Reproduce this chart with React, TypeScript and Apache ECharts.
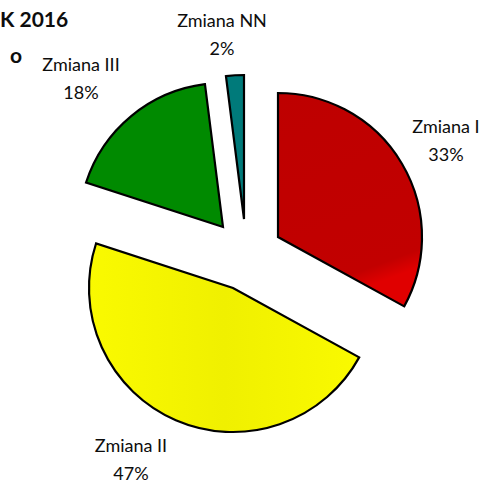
import React, { useEffect, useRef } from "react";
import * as echarts from "echarts";

const categories = ["Zmiana I", "Zmiana II", "Zmiana III", "Zmiana NN"];
const values = [33, 47, 18, 2];
const titleLines = ["K 2016", "o"];

const colors: any[] = [
  { type: "linear", x: 0, y: 0, x2: 0.25, y2: 1, colorStops: [{ offset: 0, color: "#BE0000" }, { offset: 0.92, color: "#C20000" }, { offset: 1, color: "#E00000" }] },
  { type: "linear", x: 0, y: 0, x2: 1, y2: 0, colorStops: [{ offset: 0, color: "#FAFA00" }, { offset: 0.5, color: "#F0F000" }, { offset: 1, color: "#FAFA00" }] },
  "#008A00",
  "#007A7A",
];
// apex (center) of each exploded slice
const centers = [[278, 237], [233, 288], [223, 227], [244, 219]];
const labelPos = [[446, 140], [131, 459], [81, 78], [222, 34]];

export default function App() {
  const ref = useRef<HTMLDivElement>(null);
  useEffect(() => {
    document.body.style.margin = "0";
    const chart = echarts.init(ref.current!, null, { renderer: "svg" });
    const series = categories.map((_, si) => ({
      type: "pie",
      center: centers[si],
      radius: 144,
      startAngle: 90,
      clockwise: true,
      silent: true,
      avoidLabelOverlap: false,
      labelLine: { show: false },
      data: categories.map((name, i) => ({
        name,
        value: values[i],
        itemStyle:
          i === si
            ? { color: colors[i], borderColor: "#000", borderWidth: 2.2, borderJoin: "miter" }
            : { color: "transparent", borderWidth: 0 },
        label: {
          show: i === si,
          position: "outside",
          formatter: "{b}\n{d}%",
          color: "#0d0d0d",
          fontFamily: "Lato",
          fontSize: 18,
          lineHeight: 28,
          align: "center",
        },
      })),
      labelLayout: (p: any) => ({
        x: labelPos[p.dataIndex][0],
        y: labelPos[p.dataIndex][1],
        align: "center",
        verticalAlign: "middle",
      }),
    }));
    chart.setOption({
      animation: false,
      backgroundColor: "#fff",
      graphic: [
        { type: "text", left: 0, top: 8, style: { text: titleLines[0], font: "bold 21px Lato", fill: "#0d0d0d" } },
        { type: "text", left: 10, top: 44, style: { text: titleLines[1], font: "bold 21px Lato", fill: "#0d0d0d" } },
      ],
      series,
    });
    return () => chart.dispose();
  }, []);
  return <div ref={ref} style={{ width: 486, height: 484 }} />;
}
